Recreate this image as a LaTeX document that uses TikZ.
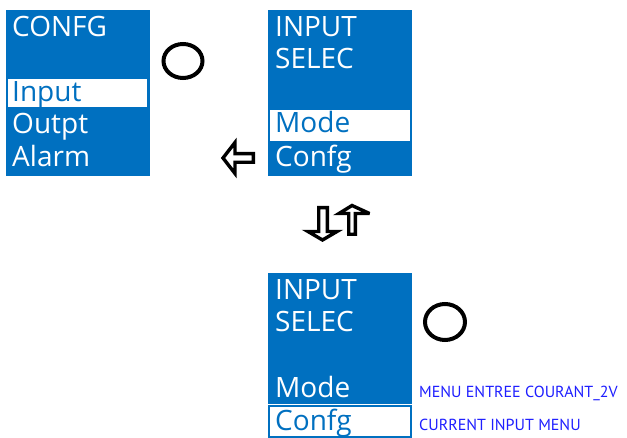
\documentclass[tikz,border=0pt]{standalone}
\usepackage{fontspec}
\setmainfont{Open Sans}
\newfontfamily\lblfont{PT Sans}
\definecolor{panelblue}{RGB}{0,112,192}
\definecolor{lblblue}{RGB}{30,30,255}
\tikzset{
  panel/.style={fill=panelblue, draw=none},
  hilite/.style={fill=white, draw=panelblue, line width=1.8pt},
  mtext/.style={anchor=base west, inner sep=0pt, text=white, font=\fontsize{28}{28}\selectfont},
  htext/.style={mtext, text=panelblue},
  lbl/.style={anchor=base west, inner sep=0pt, text=lblblue, font=\lblfont\fontsize{16}{16}\selectfont},
  blockarrow/.style={fill=white, draw=black, line width=3.4pt, line join=miter, miter limit=4},
  knob/.style={draw=black, line width=4pt}
}
\begin{document}
\begin{tikzpicture}[x=1pt,y=-1pt]
\useasboundingbox (0,0) rectangle (627,438);
% panel 1
\fill[panel] (6,10) rectangle (150,176);
\draw[hilite] (7,78) rectangle (148,108);
\node[mtext] (p1a) at (12,37) {CONFG};
\node[htext] (p1b) at (12,102) {Input};
\node[mtext] (p1c) at (12,134) {Outpt};
\node[mtext] (p1d) at (12,167) {Alarm};
\draw[knob] (183,61) ellipse (19.5 and 17);
% panel 2
\fill[panel] (268,10) rectangle (412,176);
\draw[hilite] (269,109) rectangle (411,142);
\node[mtext] (p2a) at (275,37) {INPUT};
\node[mtext] (p2b) at (275,69) {SELEC};
\node[htext] (p2c) at (275,133) {Mode};
\node[mtext] (p2d) at (275,167) {Confg};
% left arrow
\draw[blockarrow] (223,158) -- (235,142.5) -- (235,153.7) -- (253.3,153.7) -- (253.3,162.3) -- (235,162.3) -- (235,173.5) -- cycle;
% up/down arrows
\draw[blockarrow] (318.7,207.7) -- (327.3,207.7) -- (327.3,231.5) -- (337,231.5) -- (322.5,240) -- (308,231.5) -- (318.7,231.5) -- cycle;
\draw[blockarrow] (348.7,234.3) -- (355.3,234.3) -- (355.3,213.5) -- (369.5,213.5) -- (352,205.5) -- (339,213.5) -- (348.7,213.5) -- cycle;
% panel 3
\fill[panel] (268,273) rectangle (412,404);
\draw[hilite] (269,406) rectangle (411,437);
\node[mtext] (p3a) at (275,300) {INPUT};
\node[mtext] (p3b) at (275,332) {SELEC};
\node[mtext] (p3c) at (275,398) {Mode};
\node[htext] (p3d) at (275,431) {Confg};
\draw[knob] (445,322) ellipse (20 and 18);
\node[lbl] (l1) at (419,398) {MENU ENTREE COURANT\_2V};
\node[lbl] (l2) at (419,431) {CURRENT INPUT MENU};
\end{tikzpicture}
\end{document}
